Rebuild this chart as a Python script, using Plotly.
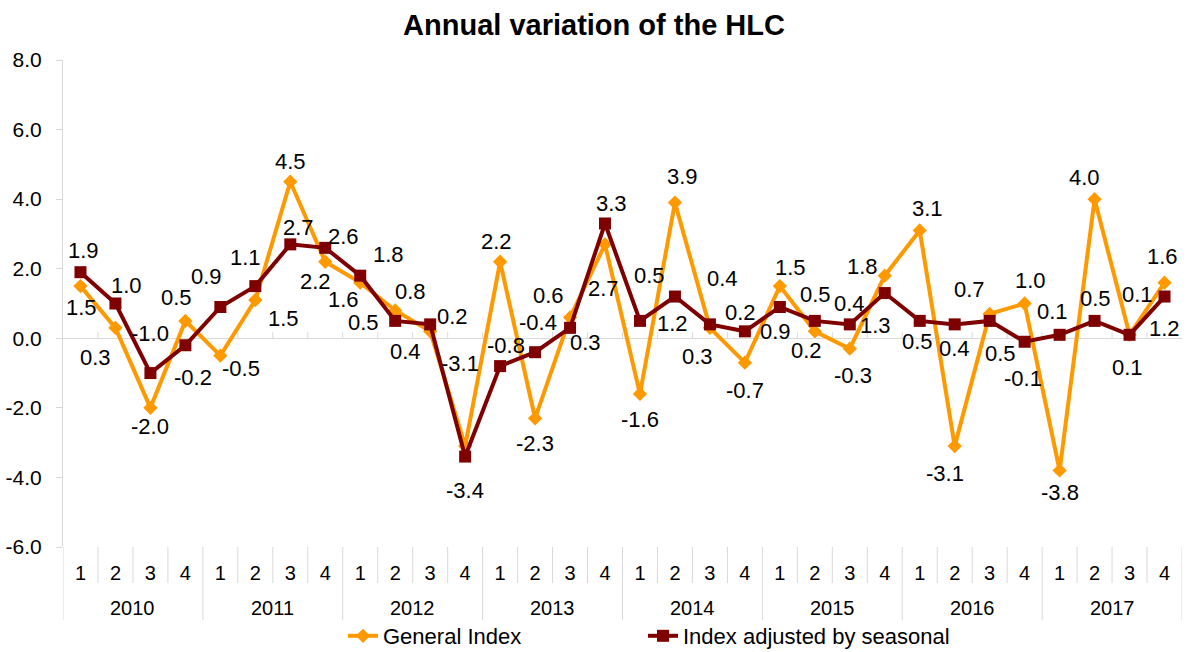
import plotly.graph_objects as go

# Quarterly series, annual variation (%)
years = ["2010", "2011", "2012", "2013", "2014", "2015", "2016", "2017"]
quarters = ["1", "2", "3", "4"]

general_index = [1.5, 0.3, -2.0, 0.5,
                 -0.5, 1.1, 4.5, 2.2,
                 1.6, 0.8, 0.2, -3.1,
                 2.2, -2.3, 0.6, 2.7,
                 -1.6, 3.9, 0.3, -0.7,
                 1.5, 0.2, -0.3, 1.8,
                 3.1, -3.1, 0.7, 1.0,
                 -3.8, 4.0, 0.1, 1.6]

seasonal_adjusted = [1.9, 1.0, -1.0, -0.2,
                     0.9, 1.5, 2.7, 2.6,
                     1.8, 0.5, 0.4, -3.4,
                     -0.8, -0.4, 0.3, 3.3,
                     0.5, 1.2, 0.4, 0.2,
                     0.9, 0.5, 0.4, 1.3,
                     0.5, 0.4, 0.5, -0.1,
                     0.1, 0.5, 0.1, 1.2]

y_ticks = [-6, -4, -2, 0, 2, 4, 6, 8]

# Label offsets in screen pixels (dx right, dy down) from each marker
general_offsets = [(1, 21), (-20, 30), (0, 19), (-9, -23),
                   (21, 13), (-10, -43), (0, -20), (-10, 20),
                   (-17, 17), (15, -19), (22, -15), (-5, -83),
                   (-4, -20), (0, 25), (-22, -22), (-2, 44),
                   (0, 26), (8, -26), (-12, 29), (0, 28),
                   (11, -19), (-8, 19), (3, 27), (-22, -9),
                   (8, -22), (-10, 27), (-20, -24), (6, -23),
                   (0, 22), (-10, -22), (-2, 33), (-2, -26)]

adjusted_offsets = [(3, -22), (11, -18), (0, -40), (8, 32),
                    (-14, -30), (28, 32), (8, -17), (18, -11),
                    (28, -21), (-32, 2), (-25, 27), (0, 34),
                    (6, -21), (3, -30), (15, 15), (6, -20),
                    (10, -45), (-2, 27), (13, -46), (-4, -19),
                    (-4, 25), (1, -26), (0, -21), (-9, 32),
                    (-2, 21), (0, 24), (11, 33), (-2, 37),
                    (-7, -23), (1, -22), (8, -40), (0, 32)]

ORANGE = "#FF9900"
MAROON = "#7F0000"
AXIS_GREY = "#D9D9D9"
FONT = "Liberation Sans, Arial, sans-serif"

W, H = 1188, 652
M_L, M_R, M_T, M_B = 63, 6, 60, 105
PLOT_W = W - M_L - M_R
PLOT_H = H - M_T - M_B

n = len(general_index)
per_year = len(quarters)
x_idx = list(range(n))
quarter_text = [q for _ in years for q in quarters]

fig = go.Figure()

fig.add_trace(go.Scatter(
    x=x_idx, y=general_index, name="General Index",
    mode="lines+markers",
    line=dict(color=ORANGE, width=4),
    marker=dict(symbol="diamond", size=11, color=ORANGE),
    legend="legend",
))

fig.add_trace(go.Scatter(
    x=x_idx, y=seasonal_adjusted, name="Index adjusted by seasonal",
    mode="lines+markers",
    line=dict(color=MAROON, width=4),
    marker=dict(symbol="square", size=12, color=MAROON),
    legend="legend2",
))

# Value labels
annotations = []
for series, offsets in ((general_index, general_offsets),
                        (seasonal_adjusted, adjusted_offsets)):
    for i, (val, (dx, dy)) in enumerate(zip(series, offsets)):
        annotations.append(dict(
            x=i, y=val, xref="x", yref="y",
            text=f"{val:.1f}", showarrow=False,
            xshift=dx, yshift=-dy,
            font=dict(family=FONT, size=22, color="#000000"),
        ))

# Year labels centred under each group of quarters
for k, yr in enumerate(years):
    annotations.append(dict(
        x=k * per_year + (per_year - 1) / 2, y=0, xref="x", yref="paper",
        yshift=-61, yanchor="middle",
        text=yr, showarrow=False,
        font=dict(family=FONT, size=20, color="#000000"),
    ))

# Category separators under the plot and small ticks on the zero line
shapes = []
for b in range(n + 1):
    xb = b - 0.5
    year_edge = (b % per_year == 0)
    shapes.append(dict(
        type="line", xref="x", yref="paper",
        ysizemode="pixel", yanchor=0,
        x0=xb, x1=xb, y0=0, y1=-73 if year_edge else -36,
        line=dict(color=AXIS_GREY, width=1),
        layer="below",
    ))
    if 0 < b < n:
        shapes.append(dict(
            type="line", xref="x", yref="y",
            ysizemode="pixel", yanchor=0,
            x0=xb, x1=xb, y0=0, y1=6,
            line=dict(color=AXIS_GREY, width=1),
            layer="below",
        ))

legend_font = dict(family=FONT, size=22, color="#000000")
legend_y = 1 - 636 / H

fig.update_layout(
    width=W, height=H,
    margin=dict(l=M_L, r=M_R, t=M_T, b=M_B),
    paper_bgcolor="white", plot_bgcolor="white",
    font=dict(family=FONT, color="#000000"),
    title=dict(
        text="<b>Annual variation of the HLC</b>",
        x=0.5, xref="container", xanchor="center",
        y=1 - 25 / H, yref="container", yanchor="middle",
        font=dict(family=FONT, size=29, color="#000000"),
    ),
    xaxis=dict(
        range=[-0.5, n - 0.5],
        tickmode="array", tickvals=x_idx, ticktext=quarter_text,
        ticks="", showline=False, showgrid=False, zeroline=False,
        ticklabelstandoff=12, automargin=False,
        tickfont=dict(family=FONT, size=20, color="#000000"),
    ),
    yaxis=dict(
        range=[y_ticks[0], y_ticks[-1]],
        tickmode="array", tickvals=y_ticks,
        ticktext=[f"{v:.1f}" for v in y_ticks],
        showgrid=False, showline=True, linecolor=AXIS_GREY, linewidth=1,
        ticks="outside", ticklen=6, tickcolor=AXIS_GREY,
        ticklabelstandoff=10, automargin=False,
        zeroline=True, zerolinecolor=AXIS_GREY, zerolinewidth=1,
        tickfont=dict(family=FONT, size=21, color="#000000"),
    ),
    legend=dict(
        orientation="h",
        xref="container", x=(383 - 40) / W, xanchor="left",
        yref="container", y=legend_y, yanchor="middle",
        font=legend_font, bgcolor="rgba(0,0,0,0)",
    ),
    legend2=dict(
        orientation="h",
        xref="container", x=(683 - 40) / W, xanchor="left",
        yref="container", y=legend_y, yanchor="middle",
        font=legend_font, bgcolor="rgba(0,0,0,0)",
    ),
    annotations=annotations,
    shapes=shapes,
    showlegend=True,
)

fig.write_html("out.html")
